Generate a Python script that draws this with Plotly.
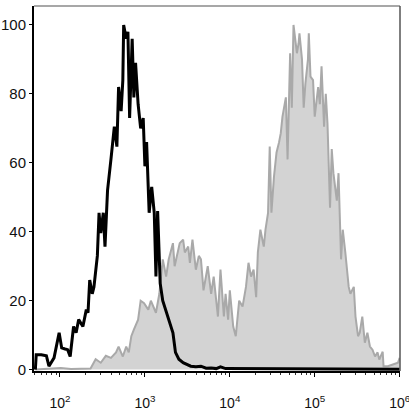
import plotly.graph_objects as go

# Control (black line): log10 fluorescence intensity and % of max
ctrl_log = [1.71, 1.72, 1.78, 1.84, 1.87, 1.93, 1.99, 2.02, 2.06, 2.09, 2.12, 2.16, 2.19, 2.22,
            2.27, 2.31, 2.33, 2.35, 2.38, 2.40, 2.44, 2.46, 2.48, 2.51, 2.53, 2.56, 2.60, 2.64,
            2.67, 2.69, 2.72, 2.74, 2.75, 2.78, 2.80, 2.82, 2.85, 2.87, 2.89, 2.92, 2.95, 2.98,
            3.00, 3.02, 3.05, 3.08, 3.11, 3.13, 3.15, 3.18, 3.21, 3.25, 3.28, 3.33, 3.36, 3.40,
            3.45, 3.49, 3.54, 3.60, 3.66, 3.72, 3.78, 3.84, 3.89, 3.95, 4.01, 4.25, 4.84, 6.00]
ctrl_val = [0, 4.3, 4.3, 4.0, 1.0, 3.4, 10.7, 6.3, 6.0, 5.8, 3.8, 12.5, 10.7, 14.5,
            12.5, 17.4, 16.5, 26, 22, 24, 33, 45.5, 39.6, 45.5, 35.7, 52, 61, 70.5,
            64.7, 82, 75, 84, 100, 96, 98, 73, 96, 79, 89, 77, 70, 73,
            59, 66, 45.5, 53, 45.5, 27, 46, 25, 20, 17, 14.5, 10.7, 5, 3,
            2, 1.5, 1, 0.8, 1, 0.4, 0.5, 0.3, 0.8, 0.3, 0.3, 0.2, 0.1, 0.1]

# Stained sample (gray filled)
samp_log = [1.71, 2.01, 2.13, 2.25, 2.36, 2.42, 2.48, 2.54, 2.60, 2.66, 2.69, 2.74, 2.78, 2.81,
            2.84, 2.87, 2.92, 2.95, 2.99, 3.04, 3.07, 3.13, 3.17, 3.21, 3.25, 3.28, 3.33, 3.35,
            3.39, 3.41, 3.45, 3.47, 3.51, 3.53, 3.56, 3.60, 3.635,
            3.66, 3.69, 3.74, 3.78, 3.81, 3.86, 3.89, 3.93, 3.95, 3.98, 4.00, 4.04, 4.07, 4.11,
            4.15, 4.19, 4.22, 4.25, 4.28, 4.31, 4.33, 4.36, 4.40, 4.42, 4.45, 4.47, 4.49, 4.52,
            4.55, 4.58, 4.60, 4.62, 4.66, 4.68, 4.71, 4.73, 4.75, 4.79, 4.81, 4.82, 4.85, 4.87,
            4.89, 4.92, 4.93, 4.95, 4.98, 5.00, 5.04, 5.06, 5.08, 5.11, 5.13, 5.15, 5.18, 5.20,
            5.22, 5.26, 5.28, 5.31, 5.33, 5.36, 5.40, 5.42, 5.46, 5.48, 5.51, 5.53, 5.56, 5.59,
            5.62, 5.65, 5.68, 5.71, 5.74, 5.76, 5.80, 5.81, 5.86, 5.92, 5.98, 6.00]
samp_val = [0, 0.5, 0.2, 0.3, 0.3, 3, 2, 4, 3.4, 5, 6.7, 3.8, 6.7, 5,
            9.7, 11.6, 14.5, 20, 19.3, 17.4, 20, 16.5, 22, 32, 27, 32, 36.7, 30,
            34, 36.7, 37.7, 34, 35.7, 31, 37.7, 29, 33,
            32, 23, 30, 22, 27, 15.4, 29, 15.4, 22, 14.5, 23, 12.5, 9.7, 20,
            18.3, 24, 31, 27, 29, 21, 34, 40.6, 35.7, 40.6, 45.5, 64.7, 45.5, 56,
            63, 66, 68.6, 73.4, 79, 61, 91.8, 76, 100, 91.8, 94.7, 97.6, 90, 76,
            83, 90, 97.6, 85, 84, 73.4, 82, 77, 88, 70.5, 80, 71.5, 47, 64,
            57, 49, 57, 32, 40.6, 34, 24, 22, 24, 15.4, 9.7, 10.7, 15.4, 7.8,
            10.7, 6.7, 5.8, 3.8, 5, 2.9, 5.2, 1, 1, 1.5, 2, 3.4]

y_ticks = [0, 20, 40, 60, 80, 100]
x_ticks = [100, 1000, 10000, 100000, 1000000]
x_labels = ["10<sup>2</sup>", "10<sup>3</sup>", "10<sup>4</sup>", "10<sup>5</sup>", "10<sup>6</sup>"]

fig = go.Figure()
fig.add_trace(go.Scatter(
    x=[10 ** v for v in samp_log], y=samp_val, mode="lines",
    line=dict(color="#a9a9a9", width=2), fill="tozeroy", fillcolor="#d3d3d3",
    showlegend=False, hoverinfo="skip"))
fig.add_trace(go.Scatter(
    x=[10 ** v for v in ctrl_log], y=ctrl_val, mode="lines",
    line=dict(color="#000000", width=3),
    showlegend=False, hoverinfo="skip"))

fig.update_layout(
    width=409, height=419,
    margin=dict(l=34, r=9, t=6, b=48, autoexpand=False),
    paper_bgcolor="white", plot_bgcolor="white",
    font=dict(family="Liberation Sans, Arial", size=15, color="#111111"),
    shapes=[
        dict(type="line", xref="paper", yref="paper", x0=0, x1=1, y0=1, y1=1,
             line=dict(color="#8a8a8a", width=1.5), layer="above"),
        dict(type="line", xref="paper", yref="paper", x0=1, x1=1, y0=0, y1=1,
             line=dict(color="#555555", width=1.5), layer="above"),
    ],
)
fig.update_xaxes(
    type="log", range=[1.694, 6.004], tickvals=x_ticks, ticktext=x_labels,
    automargin=False, ticklabelstandoff=14, ticklabeloverflow="allow",
    showgrid=False, zeroline=False, showline=True, linecolor="black", linewidth=2,
    ticks="outside", ticklen=4, tickcolor="black", tickfont=dict(size=14),
    minor=dict(ticks="outside", ticklen=2, tickcolor="#333333", dtick="D1", showgrid=False),
)
fig.update_yaxes(
    range=[-0.4, 105.5], tickvals=y_ticks, automargin=False,
    showgrid=False, zeroline=False, showline=True, linecolor="black", linewidth=2,
    ticks="outside", ticklen=3, tickcolor="black", tickfont=dict(size=15),
)

fig.write_html("out.html", config={"displayModeBar": False, "staticPlot": True})
with open("out.html", "r", encoding="utf-8") as f:
    html = f.read()
html = html.replace("<body>", '<body style="margin:0;padding:0;overflow:hidden">', 1)
with open("out.html", "w", encoding="utf-8") as f:
    f.write(html)
